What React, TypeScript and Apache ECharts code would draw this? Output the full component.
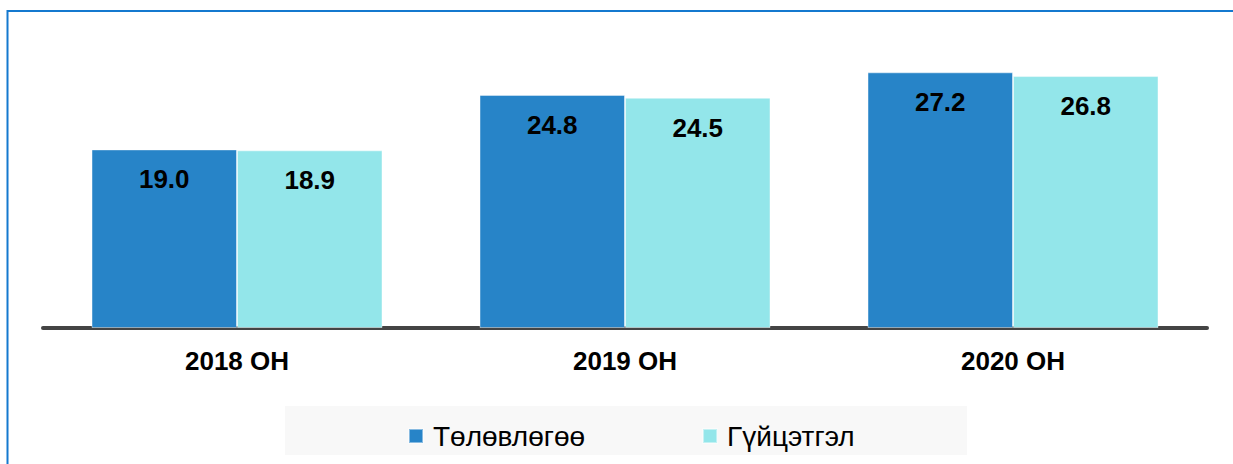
import React, { useEffect, useRef } from "react";
import * as echarts from "echarts";

const categories = ["2018 ОН", "2019 ОН", "2020 ОН"];
const planValues = [19.0, 24.8, 27.2];
const actualValues = [18.9, 24.5, 26.8];
const seriesNames = ["Төлөвлөгөө", "Гүйцэтгэл"];

const FONT = "'Liberation Sans', Arial, sans-serif";

export default function App() {
  const ref = useRef<HTMLDivElement>(null);
  useEffect(() => {
    document.body.style.margin = "0";
    const chart = echarts.init(ref.current!, null, { renderer: "svg" });
    const label = {
      show: true,
      position: "insideTop",
      distance: 17,
      fontSize: 26,
      fontWeight: "bold",
      fontFamily: FONT,
      color: "#000",
      formatter: (p: any) => Number(p.value).toFixed(1),
    };
    chart.setOption({
      animation: false,
      backgroundColor: "#fff",
      graphic: [
        {
          type: "rect",
          z: -10,
          shape: { x: 7.5, y: 11, width: 1400, height: 600 },
          style: { fill: "none", stroke: "#1479cf", lineWidth: 2 },
        },
        {
          type: "rect",
          z: -5,
          shape: { x: 285, y: 406, width: 682, height: 49 },
          style: { fill: "#f8f8f8" },
        },
      ],
      legend: {
        left: 403,
        top: 417,
        itemWidth: 14,
        itemHeight: 14,
        itemGap: 117,
        icon: "rect",
        data: seriesNames,
        textStyle: {
          fontSize: 28,
          fontFamily: FONT,
          color: "#000",
          padding: [0, 0, 0, 5],
        },
      },
      grid: { left: 43, right: 26, top: 46, bottom: 136 },
      xAxis: {
        type: "category",
        data: categories,
        offset: 2,
        axisLine: { lineStyle: { color: "#444", width: 4 } },
        axisTick: { show: false },
        axisLabel: {
          fontSize: 26,
          fontWeight: "bold",
          fontFamily: FONT,
          color: "#000",
          margin: 18,
        },
      },
      yAxis: { type: "value", min: 0, max: 30, show: false, splitLine: { show: false } },
      series: [
        {
          name: seriesNames[0],
          type: "bar",
          data: planValues,
          barGap: "0%",
          barCategoryGap: "25%",
          itemStyle: { color: "#2784c8", borderColor: "rgba(255,255,255,0.45)", borderWidth: 1 },
          label,
        },
        {
          name: seriesNames[1],
          type: "bar",
          data: actualValues,
          itemStyle: { color: "#93e6ea", borderColor: "rgba(255,255,255,0.45)", borderWidth: 1 },
          label,
        },
      ],
    });
    return () => chart.dispose();
  }, []);
  return <div ref={ref} style={{ width: 1233, height: 464 }} />;
}
